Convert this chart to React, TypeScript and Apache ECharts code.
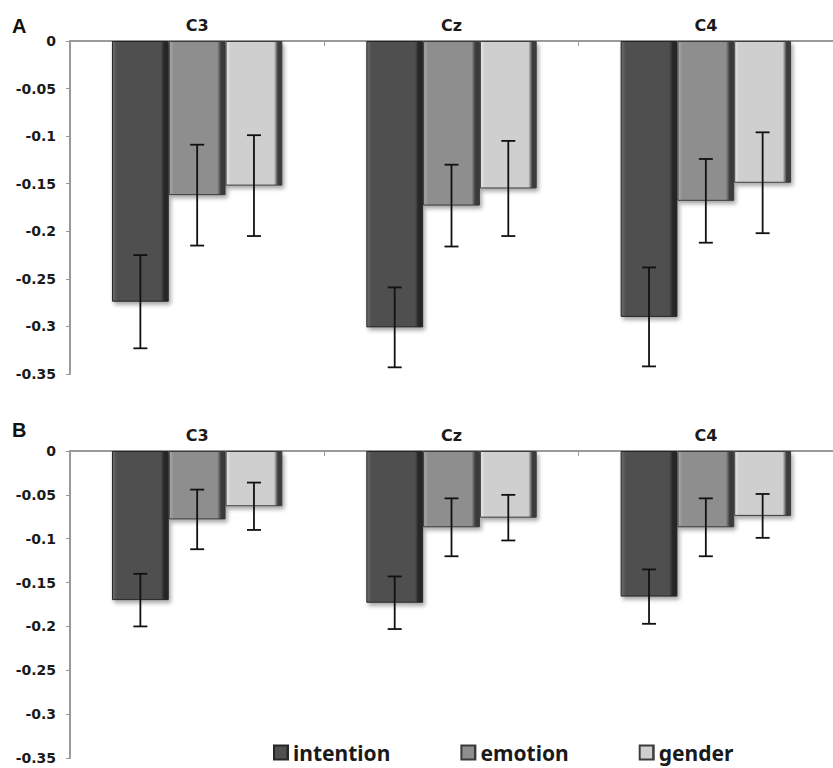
import React, { useEffect, useRef } from "react";
import * as echarts from "echarts";

const categories = ["C3", "Cz", "C4"];
const seriesNames = ["intention", "emotion", "gender"];
const yTicks = { min: -0.35, max: 0, interval: 0.05 };

// Panel A means and error half-widths
const aIntention = [-0.274, -0.301, -0.29];
const aEmotion = [-0.162, -0.173, -0.168];
const aGender = [-0.152, -0.155, -0.149];
const aIntentionErr = [0.049, 0.042, 0.052];
const aEmotionErr = [0.053, 0.043, 0.044];
const aGenderErr = [0.053, 0.05, 0.053];

// Panel B means and error half-widths
const bIntention = [-0.17, -0.173, -0.166];
const bEmotion = [-0.078, -0.087, -0.087];
const bGender = [-0.063, -0.076, -0.074];
const bIntentionErr = [0.03, 0.03, 0.031];
const bEmotionErr = [0.034, 0.033, 0.033];
const bGenderErr = [0.027, 0.026, 0.025];

const panelLabels = ["A", "B"];

const palette = [
  { light: "#6e6e6e", base: "#505050", dark: "#262626" },
  { light: "#ababab", base: "#8e8e8e", dark: "#3a3a3a" },
  { light: "#e8e8e8", base: "#cfcfcf", dark: "#3c3c3c" },
];

const GAP = 0.33;

export default function App() {
  const ref = useRef<HTMLDivElement>(null);

  useEffect(() => {
    if (!ref.current) return;
    const chart = echarts.init(ref.current, null, { renderer: "svg" });

    const grids = [
      { left: 70, top: 41, width: 775, height: 333 },
      { left: 70, top: 451, width: 775, height: 307 },
    ];

    const means = [
      [aIntention, aEmotion, aGender],
      [bIntention, bEmotion, bGender],
    ];
    const errs = [
      [aIntentionErr, aEmotionErr, aGenderErr],
      [bIntentionErr, bEmotionErr, bGenderErr],
    ];

    const xAxes = grids.map((_, gi) => ({
      type: "category",
      gridIndex: gi,
      position: "top",
      data: categories,
      axisLine: { show: true, lineStyle: { color: "#9a9a9a", width: 2 } },
      axisTick: { show: true, inside: true, length: 5, lineStyle: { color: "#9a9a9a" } },
      axisLabel: {
        color: "#1a1a1a",
        fontWeight: "bold",
        fontSize: 16,
        fontFamily: "DejaVu Sans",
        margin: 8,
      },
      splitLine: { show: false },
    }));

    const yAxes = grids.map((_, gi) => ({
      type: "value",
      gridIndex: gi,
      min: yTicks.min,
      max: yTicks.max,
      interval: yTicks.interval,
      axisLine: { show: true, lineStyle: { color: "#9a9a9a", width: 2 } },
      axisTick: { show: true, length: 4, lineStyle: { color: "#9a9a9a" } },
      axisLabel: {
        color: "#1a1a1a",
        fontWeight: "bold",
        fontSize: 14,
        fontFamily: "DejaVu Sans",
        margin: 14,
      },
      splitLine: { show: false },
    }));

    const series: any[] = [];
    grids.forEach((_, gi) => {
      seriesNames.forEach((name, si) => {
        const p = palette[si];
        series.push({
          type: "bar",
          name,
          xAxisIndex: gi,
          yAxisIndex: gi,
          data: means[gi][si],
          barGap: "0%",
          barCategoryGap: GAP * 100 + "%",
          itemStyle: {
            color: new echarts.graphic.LinearGradient(0, 0, 1, 0, [
              { offset: 0, color: p.light },
              { offset: 0.08, color: p.base },
              { offset: 0.86, color: p.base },
              { offset: 0.93, color: p.dark },
              { offset: 1, color: p.dark },
            ]),
            borderColor: p.dark,
            borderWidth: 1,
            shadowColor: "rgba(0,0,0,0.35)",
            shadowBlur: 4,
            shadowOffsetX: 2,
            shadowOffsetY: 3,
          },
          z: 2,
        });
      });
    });

    grids.forEach((_, gi) => {
      seriesNames.forEach((name, si) => {
        const data = means[gi][si].map((v, ci) => [ci, v, errs[gi][si][ci]]);
        series.push({
          type: "custom",
          name: name + "-err-" + gi,
          xAxisIndex: gi,
          yAxisIndex: gi,
          data,
          z: 5,
          silent: true,
          encode: { x: 0, y: 1 },
          renderItem: (params: any, api: any) => {
            const c = api.value(0);
            const v = api.value(1);
            const e = api.value(2);
            const band = api.size([1, 0])[0];
            const bw = (band * (1 - GAP)) / 3;
            const off = (si - 1) * bw;
            const top = api.coord([c, v + e]);
            const bot = api.coord([c, v - e]);
            const x = top[0] + off;
            const cap = 7;
            const style = { stroke: "#111", lineWidth: 1.8 };
            return {
              type: "group",
              children: [
                { type: "line", shape: { x1: x, y1: top[1], x2: x, y2: bot[1] }, style },
                { type: "line", shape: { x1: x - cap, y1: top[1], x2: x + cap, y2: top[1] }, style },
                { type: "line", shape: { x1: x - cap, y1: bot[1], x2: x + cap, y2: bot[1] }, style },
              ],
            };
          },
        });
      });
    });

    const option: any = {
      animation: false,
      backgroundColor: "#ffffff",
      grid: grids.map((g) => ({ ...g, containLabel: false })),
      xAxis: xAxes,
      yAxis: yAxes,
      legend: {
        data: seriesNames,
        left: 268,
        top: 737,
        itemGap: 70,
        itemWidth: 14,
        itemHeight: 14,
        icon: "rect",
        textStyle: {
          fontFamily: "Noto Sans",
          fontWeight: "bold",
          fontSize: 21,
          color: "#1a1a1a",
        },
      },
      graphic: [
        {
          type: "text",
          left: 12,
          top: 16,
          style: { text: panelLabels[0], fontFamily: "Liberation Sans", fontWeight: "bold", fontSize: 20, fill: "#111" },
        },
        {
          type: "text",
          left: 12,
          top: 420,
          style: { text: panelLabels[1], fontFamily: "Liberation Sans", fontWeight: "bold", fontSize: 20, fill: "#111" },
        },
      ],
      series,
    };

    chart.setOption(option);
    return () => chart.dispose();
  }, []);

  return (
    <div
      ref={ref}
      style={{ position: "absolute", left: 0, top: 0, width: 833, height: 768, background: "#fff" }}
    />
  );
}
